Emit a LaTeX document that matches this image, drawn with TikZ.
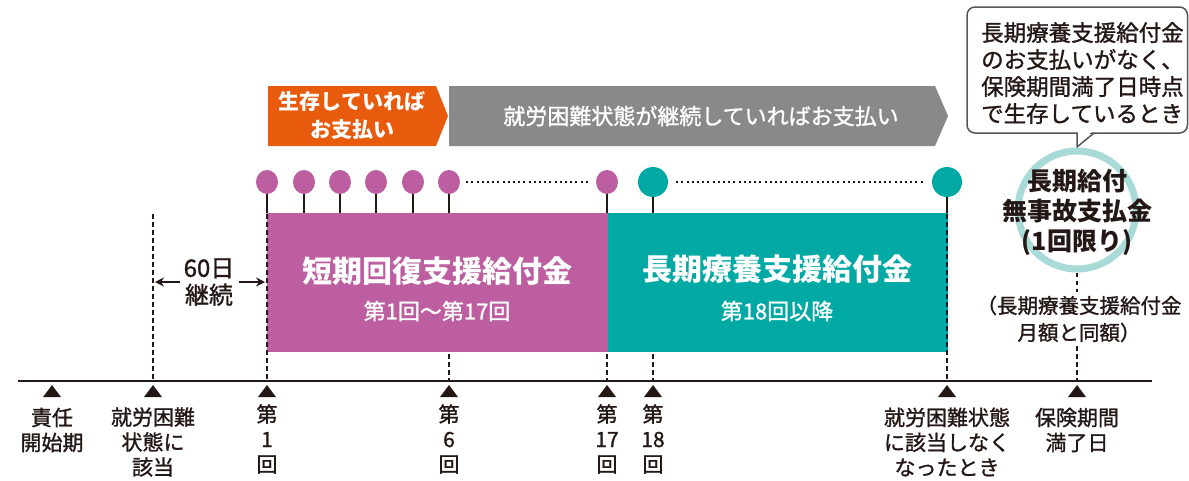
\documentclass[tikz,border=0pt]{standalone}
\usepackage{fontspec}
\setmainfont{Noto Sans CJK JP}
\newfontfamily\med{Noto Sans CJK JP}[FakeBold=1.2]
\usetikzlibrary{arrows.meta,shapes.geometric}
\definecolor{mag}{HTML}{BC5E9F}
\definecolor{teal2}{HTML}{00A9A4}
\definecolor{orng}{HTML}{E85A0C}
\definecolor{gry}{HTML}{898989}
\definecolor{ringc}{HTML}{A8DAD7}
\definecolor{ink}{HTML}{231815}
\definecolor{cbord}{HTML}{5A5452}
\begin{document}
\begin{tikzpicture}[x=1pt,y=-1pt,
  lbl/.style={text=ink,font=\med\fontsize{21}{25}\selectfont,align=center,inner sep=0pt},
  dashline/.style={draw=ink,line width=2.8pt,dash pattern=on 4.5pt off 3.5pt},
  dotline/.style={draw=ink,line width=2pt,dash pattern=on 2pt off 3.2pt},
  stem/.style={draw=ink,line width=2pt},
  magdot/.style={ellipse,fill=mag,inner sep=0pt,minimum width=22pt,minimum height=24pt},
  teldot/.style={circle,fill=teal2,inner sep=0pt,minimum size=30pt},
  tick/.style={fill=ink},
  boxtitle/.style={text=white,font=\bfseries\fontsize{30}{34}\selectfont,inner sep=0pt},
  boxsub/.style={text=white,font=\med\fontsize{22}{26}\selectfont,inner sep=0pt},
  bantext/.style={text=white,font=\med\fontsize{22}{28}\selectfont,align=center,inner sep=0pt},
  arr/.style={draw=ink,line width=2pt,-{Stealth[length=9pt,width=9pt]}}
]
\useasboundingbox (0,0) rectangle (1189,480);

% banners
\fill[orng] (268,86) -- (436,86) -- (448,116) -- (436,146) -- (268,146) -- cycle;
\node[bantext,font=\bfseries\fontsize{21}{28}\selectfont] (ban1) at (352,116) {生存していれば\\お支払い};
\fill[gry] (449,86) -- (935,86) -- (948,116) -- (935,146) -- (449,146) -- cycle;
\node[bantext] (ban2) at (701,116) {就労困難状態が継続していればお支払い};

% boxes
\node[fill=mag,minimum width=341pt,minimum height=139pt,inner sep=0pt,anchor=north west] (magbox) at (267,213) {};
\node[fill=teal2,minimum width=340pt,minimum height=139pt,inner sep=0pt,anchor=north west] (telbox) at (607.5,213) {};
\node[boxtitle] (magt) at (437,271) {短期回復支援給付金};
\node[boxsub] (mags) at (437,311) {第1回～第17回};
\node[boxtitle] (telt) at (777,269) {長期療養支援給付金};
\node[boxsub] (tels) at (777,311) {第18回以降};

% lollipops
\foreach \i/\x in {1/267,2/304,3/340,4/376,5/413,6/449,7/607}{
  \node[magdot] (m\i) at (\x,182) {};
  \draw[stem] (m\i.south) -- (m\i.south |- magbox.north);
}
\node[teldot] (t1) at (653,182) {};
\node[teldot] (t2) at (947,182) {};
\draw[stem] (t1.south) -- (t1.south |- telbox.north);
\draw[stem] (t2.south) -- (t2.south |- telbox.north);
\draw[dotline] ([xshift=6pt]m6.east) -- ([xshift=-6pt]m7.west);
\draw[dotline] ([xshift=8pt]t1.east) -- ([xshift=-8pt]t2.west);

% timeline
\coordinate (L) at (18,381);
\coordinate (R) at (1152,381);
\draw[ink,line width=2.6pt] (L) -- (R);
\foreach \n/\x in {0/52,1/153,2/267,3/449,4/607,5/653,6/947,7/1077}{
  \coordinate (p\n) at (\x,381);
  \fill[tick] (\x,385) -- (\x+9,397) -- (\x-9,397) -- cycle;
}

% dashed verticals
\draw[dashline] (153,214) -- (p1);
\draw[dashline] (267,214) -- (p2);
\draw[dashline] (449,354) -- (p3);
\draw[dashline] (607,354) -- (p4);
\draw[dashline] (653,354) -- (p5);
\draw[dashline] (947,214) -- (p6);
\draw[dashline] (1077,346) -- (p7);

% 60 days
\node[lbl,font=\med\fontsize{24}{27}\selectfont] (d60) at (209,282) {60日\\継続};
\draw[arr] (180,282) -- (155,282);
\draw[arr] (239,282) -- (265,282);

% timeline labels
\node[lbl] (l0) at (52,430) {責任\\開始期};
\node[lbl] (l1) at (153,442) {就労困難\\状態に\\該当};
\node[lbl] (l2) at (267,439) {第\\1\\回};
\node[lbl] (l3) at (449,439) {第\\6\\回};
\node[lbl] (l4) at (607,439) {第\\17\\回};
\node[lbl] (l5) at (653,439) {第\\18\\回};
\node[lbl] (l6) at (947,442) {就労困難状態\\に該当しなく\\なったとき};
\node[lbl] (l7) at (1077,430) {保険期間\\満了日};

% callout
\draw[cbord,line width=1.5pt,fill=white,rounded corners=8pt] (967,7) rectangle (1187.5,133);
\fill[white] (1077.8,131.5) -- (1077.8,145.5) -- (1092,131.5) -- cycle;
\draw[cbord,line width=1.5pt,line join=miter] (1077,133) -- (1077,147) -- (1094,133);
\node[text=ink,font=\med\fontsize{22.5}{27}\selectfont,align=left,inner sep=0pt,anchor=west] (ctext) at (981,73) {長期療養支援給付金\\のお支払いがなく、\\保険期間満了日時点\\で生存しているとき};

% bonus circle
\node[circle,draw=ringc,line width=7pt,fill=white,minimum size=118pt,inner sep=0pt] (bonus) at (1077,210) {};
\node[text=ink,font=\bfseries\fontsize{25}{30}\selectfont,align=center,inner sep=0pt] (btext) at (1077,212) {長期給付\\無事故支払金\\(1回限り)};
\draw[dashline] (bonus.south) -- (1077,292);
\node[lbl,font=\med\fontsize{20.5}{27}\selectfont] (note) at (1079,319) {（長期療養支援給付金\\月額と同額）};
\end{tikzpicture}
\end{document}
